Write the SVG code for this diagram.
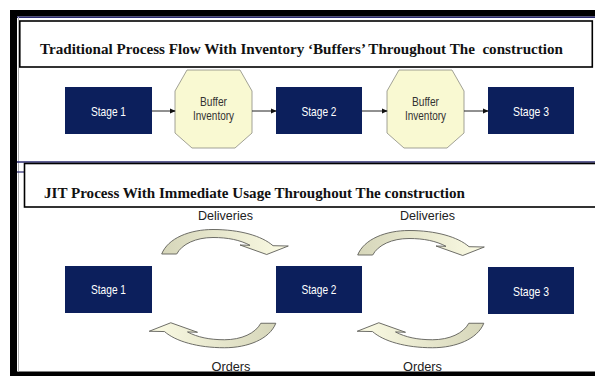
<svg xmlns="http://www.w3.org/2000/svg" width="595" height="376" viewBox="0 0 595 376">
  <defs>
    <style>
      .title { font-family: "Liberation Serif", "Times New Roman", serif; font-weight: bold; font-size: 15px; fill: #111; }
      .stage rect { fill: #0c1f5c; }
      .stage text { font-family: "Liberation Sans", Arial, sans-serif; font-size: 13px; fill: #ffffff; text-anchor: middle; }
      .buffer polygon { fill: #f9f9d2; stroke: #8a8a80; stroke-width: 0.8; }
      .buffer text { font-family: "Liberation Sans", Arial, sans-serif; font-size: 13px; fill: #333333; text-anchor: middle; }
      .label { font-family: "Liberation Sans", Arial, sans-serif; font-size: 13.5px; fill: #222222; text-anchor: middle; }
      .flow { stroke: #222222; stroke-width: 1; fill: none; marker-end: url(#head); }
      .curve { fill: url(#cream); stroke: #5e5e58; stroke-width: 0.9; }
    </style>
    <marker id="head" viewBox="0 0 8 8" refX="7" refY="4" markerWidth="6" markerHeight="6" markerUnits="userSpaceOnUse" orient="auto">
      <path d="M0,0.5 L8,4 L0,7.5 Z" fill="#111"/>
    </marker>
    <linearGradient id="cream" x1="0" y1="0" x2="1" y2="0">
      <stop offset="0" stop-color="#d6d6ba"/>
      <stop offset="1" stop-color="#fbfbe4"/>
    </linearGradient>
    <!-- curved block arrow, bending over the top and pointing down-right -->
    <path id="bend" d="M161.7,254 C168,238 190,229.5 213,229.5 C240,229.5 262,236 273,245.7 L288.3,246 L266.7,254.5 L240,245 L250,245.3 C240,240 228,237.5 213,237.5 C196,237.5 182,244 176.7,254 Z"/>
  </defs>

  <rect width="595" height="376" fill="#ffffff"/>

  <!-- frame -->
  <g id="frame">
    <rect x="10" y="10" width="585" height="6.5" fill="#000"/>
    <rect x="10" y="10" width="7" height="366" fill="#000"/>
    <rect x="10" y="371.5" width="585" height="4.5" fill="#000"/>
    <line x1="17" y1="17.3" x2="595" y2="17.3" stroke="#2b2b70" stroke-width="1.6"/>
    <line x1="18.5" y1="17" x2="18.5" y2="371.5" stroke="#b0b0b0" stroke-width="1"/>
    <line x1="17" y1="162" x2="595" y2="162" stroke="#2b2b70" stroke-width="1.6"/>
    <line x1="17" y1="172" x2="24" y2="172" stroke="#2b2b70" stroke-width="1.2"/>
  </g>

  <!-- section headers -->
  <g id="header-traditional">
    <rect x="19.8" y="21" width="572.5" height="46" fill="#fff" stroke="#000" stroke-width="1.6"/>
    <text class="title" x="40" y="54" textLength="523" lengthAdjust="spacingAndGlyphs" xml:space="preserve">Traditional Process Flow With Inventory ‘Buffers’ Throughout The  construction</text>
  </g>
  <g id="header-jit">
    <rect x="24.5" y="163.5" width="580" height="43.5" fill="#fff" stroke="#000" stroke-width="1.6"/>
    <text class="title" x="44" y="198" textLength="421" lengthAdjust="spacingAndGlyphs">JIT Process With Immediate Usage Throughout The construction</text>
  </g>

  <!-- traditional flow -->
  <g id="t-stage1" class="stage">
    <rect x="65" y="87" width="87" height="47"/>
    <text x="108.5" y="116" textLength="35" lengthAdjust="spacingAndGlyphs">Stage 1</text>
  </g>
  <g id="t-buffer1" class="buffer">
    <polygon points="187,70 240,70 252,91 252,133 235,148 192,148 175,133 175,91"/>
    <text x="213.5" y="106" textLength="27" lengthAdjust="spacingAndGlyphs">Buffer</text>
    <text x="213.5" y="120" textLength="41" lengthAdjust="spacingAndGlyphs">Inventory</text>
  </g>
  <g id="t-stage2" class="stage">
    <rect x="276" y="87" width="86" height="47"/>
    <text x="319" y="116" textLength="35" lengthAdjust="spacingAndGlyphs">Stage 2</text>
  </g>
  <g id="t-buffer2" class="buffer">
    <polygon points="399,70 452,70 464,91 464,133 447,148 404,148 387,133 387,91"/>
    <text x="425.5" y="106" textLength="27" lengthAdjust="spacingAndGlyphs">Buffer</text>
    <text x="425.5" y="120" textLength="41" lengthAdjust="spacingAndGlyphs">Inventory</text>
  </g>
  <g id="t-stage3" class="stage">
    <rect x="488" y="87" width="86" height="47"/>
    <text x="531" y="116" textLength="36" lengthAdjust="spacingAndGlyphs">Stage 3</text>
  </g>

  <g id="t-connectors">
    <line class="flow" x1="152" y1="111" x2="175" y2="111"/>
    <line class="flow" x1="252" y1="111" x2="276" y2="111"/>
    <line class="flow" x1="362" y1="111" x2="387" y2="111"/>
    <line class="flow" x1="464" y1="111" x2="488" y2="111"/>
  </g>

  <!-- JIT flow -->
  <g id="j-stage1" class="stage">
    <rect x="65" y="266" width="87" height="47"/>
    <text x="108.5" y="294" textLength="35" lengthAdjust="spacingAndGlyphs">Stage 1</text>
  </g>
  <g id="j-stage2" class="stage">
    <rect x="276" y="266" width="86" height="47"/>
    <text x="319" y="294" textLength="35" lengthAdjust="spacingAndGlyphs">Stage 2</text>
  </g>
  <g id="j-stage3" class="stage">
    <rect x="488" y="267" width="86" height="47"/>
    <text x="531" y="296" textLength="36" lengthAdjust="spacingAndGlyphs">Stage 3</text>
  </g>

  <g id="j-connectors">
    <use href="#bend" class="curve"/>
    <use href="#bend" class="curve" transform="translate(196,1)"/>
    <use href="#bend" class="curve" transform="translate(212.5,335) rotate(180) translate(-225,-242.25)"/>
    <use href="#bend" class="curve" transform="translate(420.5,335) rotate(180) translate(-225,-242.25)"/>
    <text class="label" x="225.5" y="220" textLength="55" lengthAdjust="spacingAndGlyphs">Deliveries</text>
    <text class="label" x="427.5" y="220" textLength="55" lengthAdjust="spacingAndGlyphs">Deliveries</text>
    <text class="label" x="231" y="371" textLength="39" lengthAdjust="spacingAndGlyphs">Orders</text>
    <text class="label" x="422.5" y="371" textLength="39" lengthAdjust="spacingAndGlyphs">Orders</text>
  </g>
</svg>
